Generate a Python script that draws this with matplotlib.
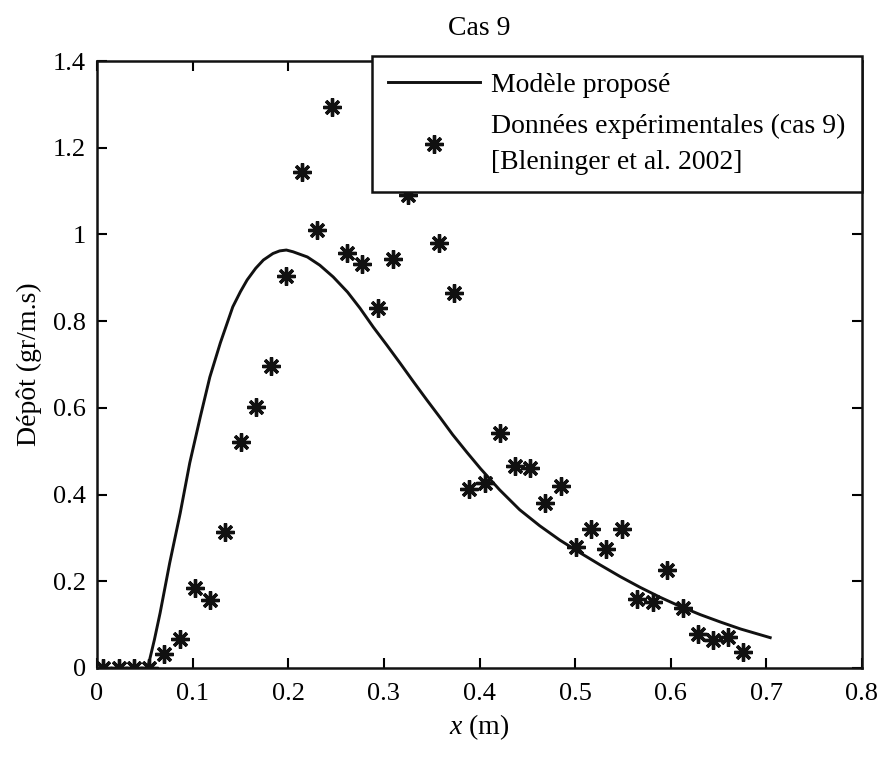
import matplotlib
matplotlib.use("Agg")
import matplotlib.pyplot as plt
from matplotlib.ticker import FuncFormatter

plt.rcParams['font.family'] = ['Liberation Serif', 'DejaVu Serif']
plt.rcParams['mathtext.fontset'] = 'custom'
plt.rcParams['mathtext.rm'] = 'Liberation Serif'
plt.rcParams['mathtext.it'] = 'Liberation Serif:italic'

x_exp = [0.006, 0.023, 0.039, 0.054, 0.070, 0.087, 0.102, 0.118, 0.134, 0.151,
         0.166, 0.182, 0.198, 0.214, 0.230, 0.246, 0.261, 0.277, 0.294, 0.310,
         0.325, 0.342, 0.358, 0.373, 0.389, 0.406, 0.421, 0.437, 0.453, 0.468,
         0.485, 0.501, 0.517, 0.532, 0.549, 0.565, 0.581, 0.596, 0.613, 0.629,
         0.644, 0.660, 0.676]
y_exp = [0.0, 0.0, 0.0, 0.0, 0.032, 0.067, 0.185, 0.157, 0.314, 0.521,
         0.602, 0.696, 0.904, 1.144, 1.010, 1.294, 0.957, 0.932, 0.830, 0.943,
         1.091, 1.213, 0.980, 0.865, 0.413, 0.427, 0.542, 0.466, 0.461, 0.381,
         0.420, 0.279, 0.321, 0.274, 0.321, 0.159, 0.152, 0.226, 0.138, 0.078,
         0.065, 0.071, 0.037]

# proposed model curve, traced point by point
x_mod = [0.053, 0.060, 0.066, 0.076, 0.087, 0.097, 0.108, 0.118, 0.129, 0.142,
         0.150, 0.157, 0.166, 0.174, 0.184, 0.191, 0.198, 0.205, 0.220, 0.233,
         0.247, 0.262, 0.275, 0.289, 0.303, 0.317, 0.331, 0.345, 0.359, 0.372,
         0.387, 0.401, 0.421, 0.442, 0.463, 0.484, 0.505, 0.526, 0.547, 0.568,
         0.589, 0.610, 0.631, 0.652, 0.673, 0.704]
y_mod = [0.0, 0.065, 0.127, 0.242, 0.357, 0.473, 0.579, 0.671, 0.750, 0.833,
         0.868, 0.895, 0.922, 0.941, 0.956, 0.962, 0.964, 0.960, 0.948, 0.929,
         0.902, 0.867, 0.830, 0.786, 0.745, 0.703, 0.660, 0.618, 0.577, 0.538,
         0.497, 0.460, 0.411, 0.365, 0.328, 0.295, 0.266, 0.238, 0.211, 0.186,
         0.163, 0.142, 0.123, 0.106, 0.090, 0.070]

fig = plt.figure(figsize=(8.77, 7.6), dpi=100)
ax = fig.add_axes([97/877, 1-668/760, (862-97)/877, (668-61)/760])

ax.plot(x_mod, y_mod, color='#111111', lw=2.1, label='Modèle proposé')
ax.plot(x_exp, y_exp, ls='none', marker=(8, 2, 0), ms=13, mew=2.4, color='#111111',
        label='Données expérimentales (cas 9)\n[Bleninger et al. 2002]')

ax.set_xlim(0, 0.8)
ax.set_ylim(0, 1.4)
ax.set_xticks([0, 0.1, 0.2, 0.3, 0.4, 0.5, 0.6, 0.7, 0.8])
ax.set_yticks([0, 0.2, 0.4, 0.6, 0.8, 1.0, 1.2, 1.4])
fmt = FuncFormatter(lambda v, p: '%g' % round(v, 3))
ax.xaxis.set_major_formatter(fmt)
ax.yaxis.set_major_formatter(fmt)
ax.tick_params(direction='in', top=True, right=True, length=7, width=1.5,
               labelsize=19, pad=8)
ax.tick_params(axis='x', pad=11)
for s in ax.spines.values():
    s.set_linewidth(1.8)
    s.set_color('#111111')

ax.set_xlabel(r'$x$ (m)', fontsize=20, labelpad=5)
ax.set_ylabel('Dépôt (gr/m.s)', fontsize=20, labelpad=8)
ax.set_title('Cas 9', fontsize=20, pad=19)

leg = ax.legend(loc='upper right', bbox_to_anchor=(862/877, 1-56/760),
                bbox_transform=fig.transFigure, borderaxespad=0, fontsize=20,
                fancybox=False, framealpha=1, edgecolor='#111111',
                handlelength=3.3, handletextpad=0.4, labelspacing=0.55,
                borderpad=0.6)
for t in leg.get_texts():
    t.set_linespacing(1.6)
leg.get_frame().set_linewidth(1.8)
leg.set_zorder(5)

fig.savefig('out.png', dpi=100, facecolor='white')
